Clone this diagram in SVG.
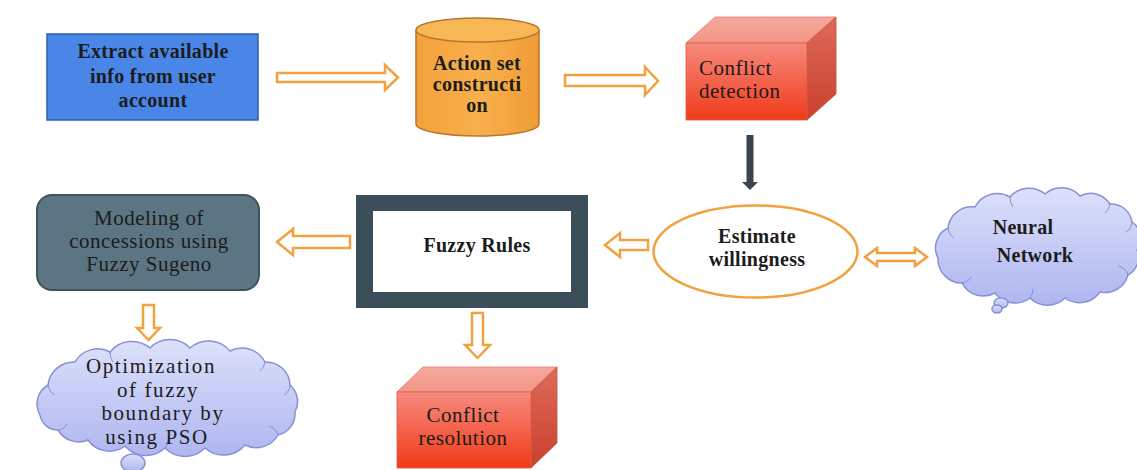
<svg xmlns="http://www.w3.org/2000/svg" width="1137" height="470" viewBox="0 0 1137 470">
  <defs>
    <linearGradient id="cubeFront" x1="0" y1="0" x2="0" y2="1">
      <stop offset="0" stop-color="#f68a7e"/>
      <stop offset="1" stop-color="#f03a18"/>
    </linearGradient>
    <linearGradient id="cubeTop" x1="0" y1="0" x2="0" y2="1">
      <stop offset="0" stop-color="#f5a99e"/>
      <stop offset="1" stop-color="#f39585"/>
    </linearGradient>
    <linearGradient id="cubeSide" x1="0" y1="0" x2="0" y2="1">
      <stop offset="0" stop-color="#de6a5c"/>
      <stop offset="1" stop-color="#c9402c"/>
    </linearGradient>
    <linearGradient id="cloudFill" x1="0" y1="0" x2="0" y2="1">
      <stop offset="0" stop-color="#dde1fb"/>
      <stop offset="1" stop-color="#aeb6ef"/>
    </linearGradient>
    <linearGradient id="cylBody" x1="0" y1="0" x2="1" y2="0">
      <stop offset="0" stop-color="#f3a03a"/>
      <stop offset="0.5" stop-color="#f8b04c"/>
      <stop offset="1" stop-color="#f09c36"/>
    </linearGradient>
  </defs>
  <style>
    text { font-family: "Liberation Serif", "Times New Roman", serif; fill: #1c1c1c; text-anchor: middle; }
    .t { font-size: 21px; letter-spacing: 0.5px; }
    .tl { font-size: 21px; letter-spacing: 1.6px; }
    .tb { font-size: 20px; font-weight: bold; letter-spacing: 0.3px; }
    .hollow { fill: #ffffff; stroke: #f2a140; stroke-width: 2.5; stroke-linejoin: miter; }
    .cloud { fill: url(#cloudFill); stroke: #8691d6; stroke-width: 1.5; }
    .edge { stroke: #7d89cf; stroke-width: 0.9; fill: none; }
    .dark { fill: #38454f; }
  </style>

  <rect width="1137" height="470" fill="#ffffff"/>

  <!-- connectors -->
  <g id="connectors">
    <path class="hollow" d="M277,73 H385 V65 L398,77.5 L385,90 V82 H277 Z"/>
    <path class="hollow" d="M565,75 H645 V67 L658,81 L645,95 V86 H565 Z"/>
    <path class="dark" d="M746.5,135 H753.5 V182 H758 L750,190 L742,182 H746.5 Z"/>
    <path class="hollow" d="M648,240 H620 V233 L605,245 L620,257 V250 H648 Z"/>
    <path class="hollow" d="M350,236 H293 V229 L277,242 L293,255 V248 H350 Z"/>
    <path class="hollow" d="M865,257 L877,248 V253 H915 V248 L927,257 L915,266 V261 H877 V266 Z"/>
    <path class="hollow" d="M143,305 H154 V328 H160 L148.5,340 L137,328 H143 Z"/>
    <path class="hollow" d="M472,313 H483 V345 H490 L477.5,358 L465,345 H472 Z"/>
  </g>

  <!-- source box -->
  <g id="node-extract">
    <rect x="47" y="34" width="211" height="86" fill="#4a86e8" stroke="#2f5fb3" stroke-width="1.5"/>
    <text class="tb" x="153" y="58">Extract available</text>
    <text class="tb" x="153" y="83">info from user</text>
    <text class="tb" x="153" y="107">account</text>
  </g>

  <!-- store cylinder -->
  <g id="node-action">
    <path d="M416,30 V124 A61.5,12 0 0 0 539,124 V30" fill="url(#cylBody)" stroke="#b87628" stroke-width="1.5"/>
    <ellipse cx="477.5" cy="30" rx="61.5" ry="12" fill="#f8b757" stroke="#b87628" stroke-width="1.5"/>
    <text class="tb" x="477" y="70">Action set</text>
    <text class="tb" x="477" y="91">constructi</text>
    <text class="tb" x="477" y="112">on</text>
  </g>

  <!-- detection cube -->
  <g id="node-detect">
    <path d="M686,43 L715,17 H836 L807,43 Z" fill="url(#cubeTop)" stroke="#e07a6c" stroke-width="0.8"/>
    <path d="M807,43 L836,17 V94 L807,120 Z" fill="url(#cubeSide)" stroke="#c4503f" stroke-width="0.8"/>
    <rect x="686" y="43" width="121" height="77" fill="url(#cubeFront)" stroke="#e05a45" stroke-width="0.8"/>
    <text class="t" x="699" y="75" style="text-anchor:start">Conflict</text>
    <text class="t" x="699" y="98" style="text-anchor:start">detection</text>
  </g>

  <!-- concession model -->
  <g id="node-sugeno">
    <rect x="37" y="195" width="222" height="95" rx="15" ry="15" fill="#5b7583" stroke="#3f535e" stroke-width="2"/>
    <text class="t" x="149" y="225">Modeling of</text>
    <text class="t" x="149" y="248">concessions using</text>
    <text class="t" x="149" y="271">Fuzzy Sugeno</text>
  </g>

  <!-- rule base -->
  <g id="node-rules">
    <rect x="356" y="195" width="232" height="113" fill="#3c4e59"/>
    <rect x="373" y="211" width="198" height="81" fill="#ffffff"/>
    <text class="tb" x="477" y="252">Fuzzy Rules</text>
  </g>

  <!-- willingness estimate -->
  <g id="node-estimate">
    <ellipse cx="755.5" cy="251.5" rx="102" ry="46" fill="#ffffff" stroke="#f2a140" stroke-width="2.5"/>
    <text class="tb" x="757" y="243">Estimate</text>
    <text class="tb" x="757" y="266">willingness</text>
  </g>

  <!-- neural network cloud -->
  <g id="node-neural">
    <path class="cloud" d="M938,258 A22,22 0 0 1 948,228 A24,24 0 0 1 975,207 A25,25 0 0 1 1010,197 A25,25 0 0 1 1045,194 A25,25 0 0 1 1080,196 A23,23 0 0 1 1110,204 A21,21 0 0 1 1132,222 A20,20 0 0 1 1137,250 A20,20 0 0 1 1128,275 A24,24 0 0 1 1100,292 A25,25 0 0 1 1065,298 A25,25 0 0 1 1030,298 A25,25 0 0 1 995,293 A24,24 0 0 1 962,283 A24,24 0 0 1 938,258 Z"/>
    <path class="edge" d="M948,228 A14,14 0 0 0 954,238 M1010,197 A16,16 0 0 0 1013,207 M1110,204 A14,14 0 0 1 1105,213 M1132,222 A12,12 0 0 1 1126,232 M1128,275 A14,14 0 0 0 1119,266 M1030,298 A14,14 0 0 0 1033,289 M962,283 A12,12 0 0 0 971,277"/>
    <ellipse class="cloud" cx="1001" cy="303" rx="7" ry="5"/>
    <ellipse class="cloud" cx="997" cy="309" rx="5" ry="4"/>
    <text class="tb" x="1023" y="234">Neural</text>
    <text class="tb" x="1035" y="262">Network</text>
  </g>

  <!-- optimisation cloud -->
  <g id="node-optim">
    <ellipse class="cloud" cx="133" cy="463" rx="12" ry="9"/>
    <path class="cloud" d="M40,415 A22,22 0 0 1 48,385 A26,26 0 0 1 75,362 A26,26 0 0 1 110,352 A28,28 0 0 1 150,348 A28,28 0 0 1 190,348 A28,28 0 0 1 230,351 A26,26 0 0 1 265,362 A24,24 0 0 1 290,385 A22,22 0 0 1 295,412 A22,22 0 0 1 278,435 A25,25 0 0 1 245,445 A28,28 0 0 1 205,448 A28,28 0 0 1 165,448 A28,28 0 0 1 125,446 A26,26 0 0 1 88,440 A24,24 0 0 1 58,430 A18,18 0 0 1 40,415 Z"/>
    <path class="edge" d="M48,385 A14,14 0 0 0 55,395 M110,352 A16,16 0 0 0 113,362 M265,362 A14,14 0 0 1 260,371 M290,385 A12,12 0 0 1 284,395 M278,435 A14,14 0 0 0 269,426 M165,448 A14,14 0 0 0 168,439 M58,430 A12,12 0 0 0 67,424"/>
    <text class="tl" x="151" y="373">Optimization</text>
    <text class="tl" x="158" y="396.5">of fuzzy</text>
    <text class="tl" x="163" y="420">boundary by</text>
    <text class="tl" x="157" y="443.5">using PSO</text>
  </g>

  <!-- resolution cube -->
  <g id="node-resolution">
    <path d="M397,392 L423,367 H557 L531,392 Z" fill="url(#cubeTop)" stroke="#e07a6c" stroke-width="0.8"/>
    <path d="M531,392 L557,367 V443 L531,468 Z" fill="url(#cubeSide)" stroke="#c4503f" stroke-width="0.8"/>
    <rect x="397" y="392" width="134" height="76" fill="url(#cubeFront)" stroke="#e05a45" stroke-width="0.8"/>
    <text class="t" x="463" y="422">Conflict</text>
    <text class="t" x="463" y="445">resolution</text>
  </g>
</svg>
